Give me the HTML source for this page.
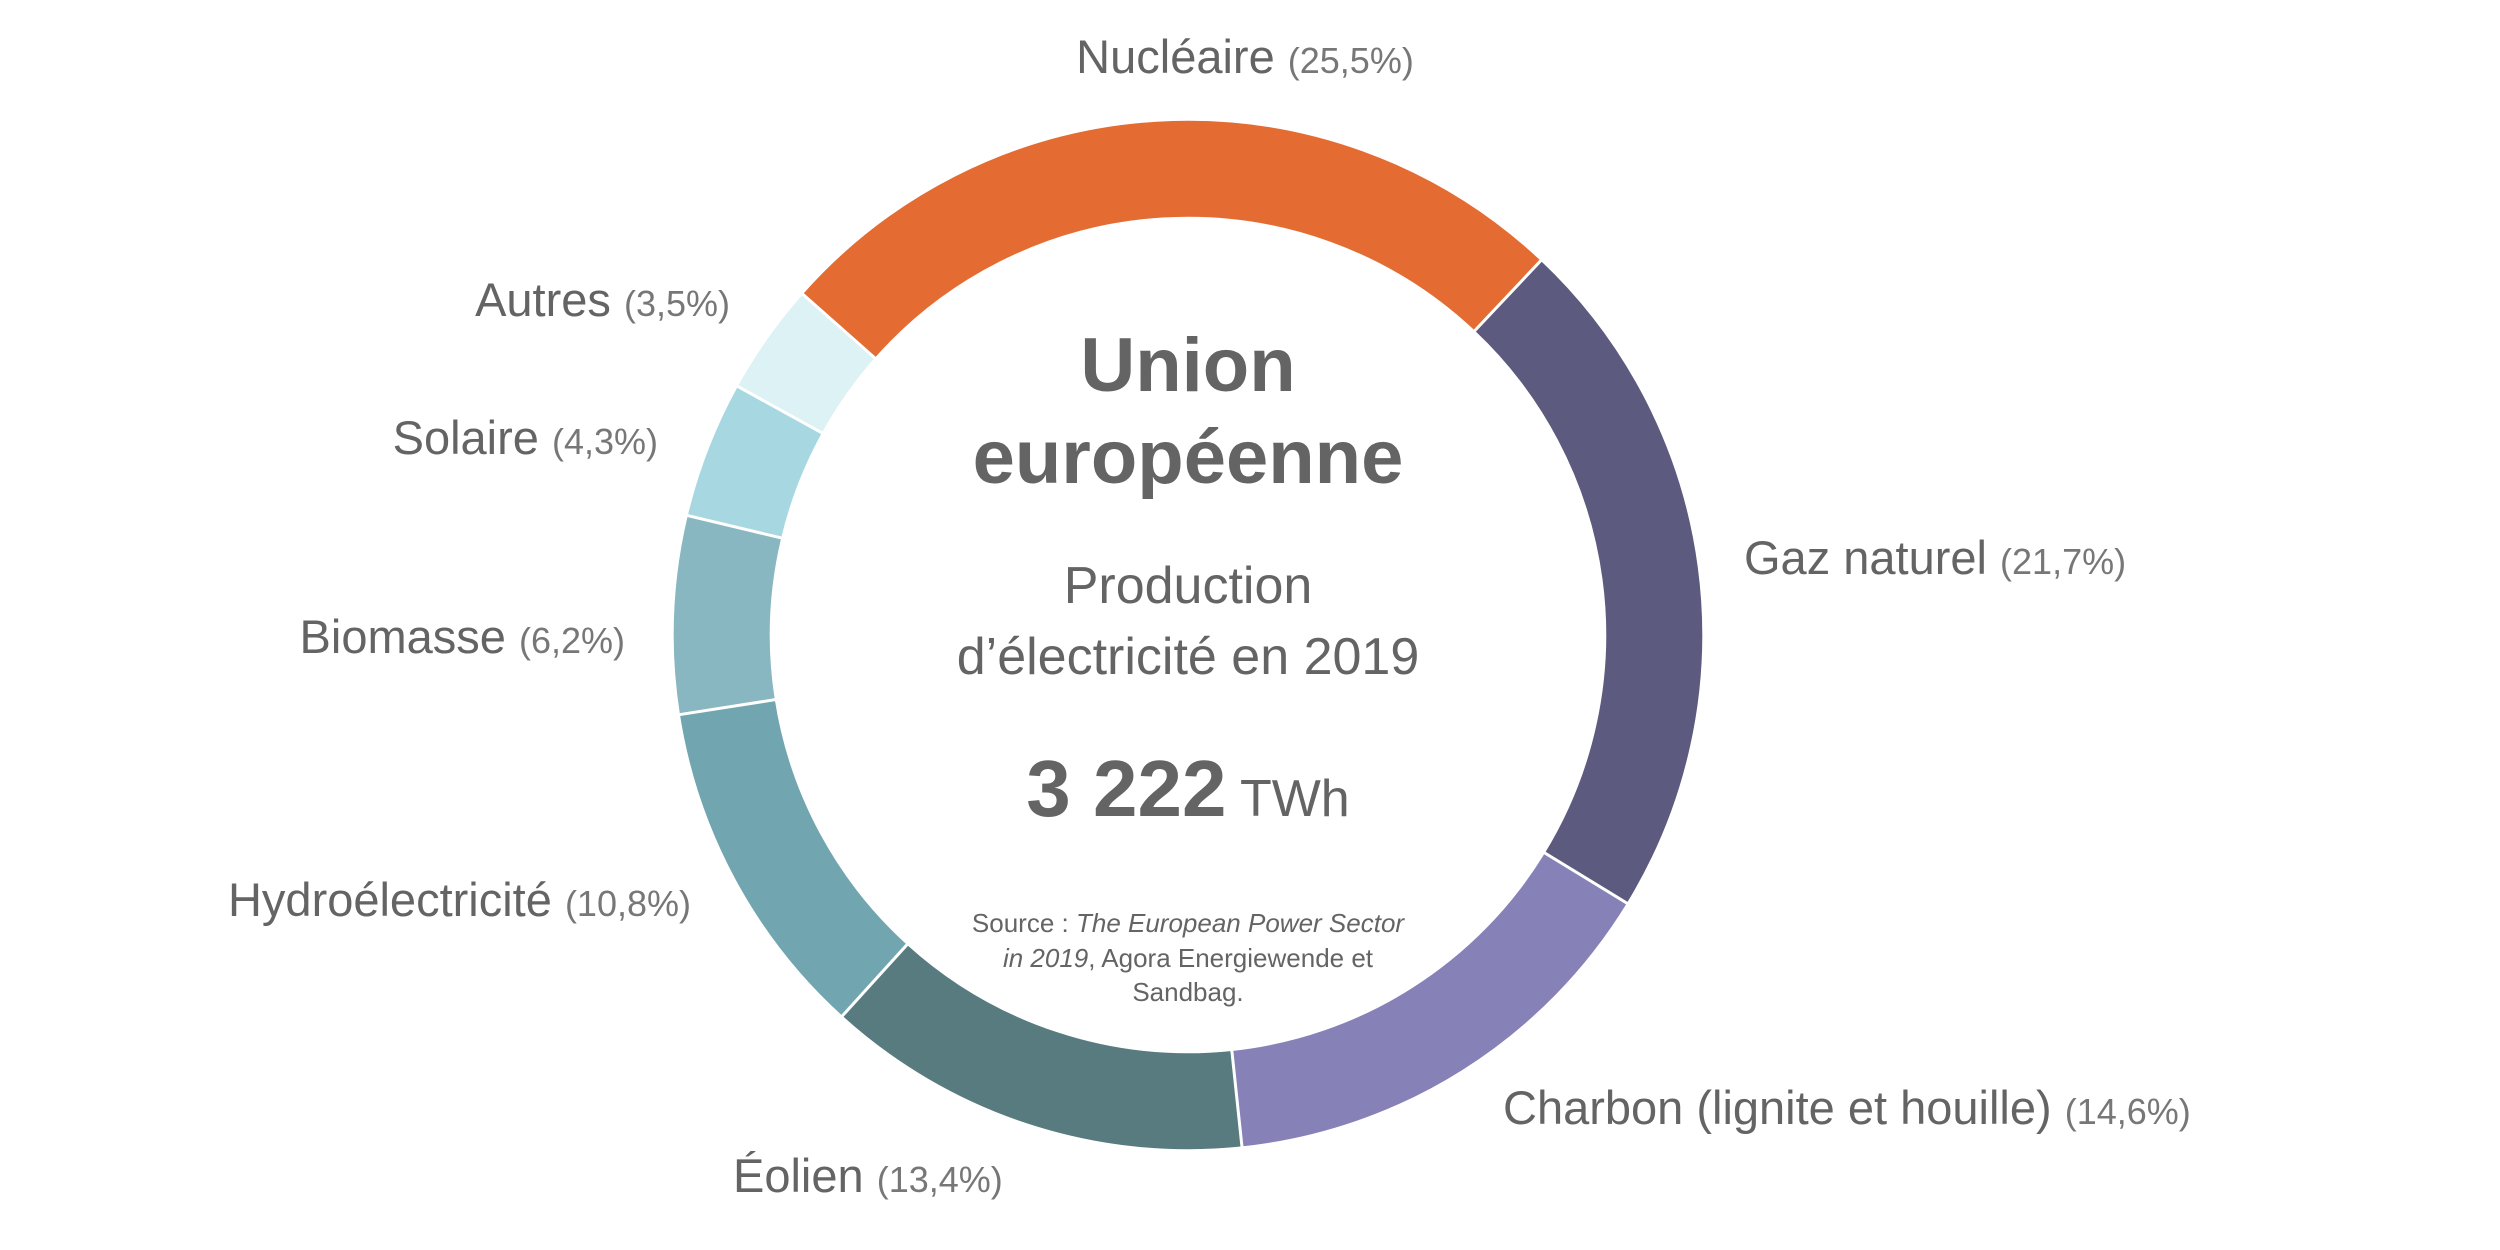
<!DOCTYPE html>
<html><head><meta charset="utf-8"><style>
html,body{margin:0;padding:0;background:#fff;}
svg{display:block;}
text{font-family:"Liberation Sans",sans-serif;fill:#646464;}
.l{font-size:47px;}
.p{font-size:36px;fill:#777;}
</style></head><body>
<svg width="2500" height="1250" viewBox="0 0 2500 1250">
<g fill="none" stroke-width="96">
<circle cx="1188" cy="635" r="466.25" stroke="#E46B31" stroke-dasharray="747.0 3000" transform="rotate(-138.5 1188 635)"/>
<circle cx="1188" cy="635" r="466.25" stroke="#5C5A7E" stroke-dasharray="635.7 3000" transform="rotate(-46.7 1188 635)"/>
<circle cx="1188" cy="635" r="466.25" stroke="#8681B7" stroke-dasharray="427.7 3000" transform="rotate(31.42 1188 635)"/>
<circle cx="1188" cy="635" r="466.25" stroke="#577B7E" stroke-dasharray="392.6 3000" transform="rotate(83.98 1188 635)"/>
<circle cx="1188" cy="635" r="466.25" stroke="#71A5B0" stroke-dasharray="316.4 3000" transform="rotate(132.22 1188 635)"/>
<circle cx="1188" cy="635" r="466.25" stroke="#88B7C2" stroke-dasharray="181.6 3000" transform="rotate(171.1 1188 635)"/>
<circle cx="1188" cy="635" r="466.25" stroke="#A7D8E2" stroke-dasharray="126.0 3000" transform="rotate(193.42 1188 635)"/>
<circle cx="1188" cy="635" r="466.25" stroke="#DDF2F5" stroke-dasharray="102.5 3000" transform="rotate(208.9 1188 635)"/>
</g>
<g stroke="#fff" stroke-width="3">
<line x1="1188" y1="218" x2="1188" y2="120" transform="rotate(-48.5 1188 635)"/>
<line x1="1188" y1="218" x2="1188" y2="120" transform="rotate(43.3 1188 635)"/>
<line x1="1188" y1="218" x2="1188" y2="120" transform="rotate(121.42 1188 635)"/>
<line x1="1188" y1="218" x2="1188" y2="120" transform="rotate(173.98 1188 635)"/>
<line x1="1188" y1="218" x2="1188" y2="120" transform="rotate(222.22 1188 635)"/>
<line x1="1188" y1="218" x2="1188" y2="120" transform="rotate(261.1 1188 635)"/>
<line x1="1188" y1="218" x2="1188" y2="120" transform="rotate(283.42 1188 635)"/>
<line x1="1188" y1="218" x2="1188" y2="120" transform="rotate(298.9 1188 635)"/>
</g>
<text class="l" x="1245" y="73" text-anchor="middle">Nucléaire <tspan class="p">(25,5%)</tspan></text>
<text class="l" x="730" y="316" text-anchor="end">Autres <tspan class="p">(3,5%)</tspan></text>
<text class="l" x="658" y="454" text-anchor="end">Solaire <tspan class="p">(4,3%)</tspan></text>
<text class="l" x="625" y="653" text-anchor="end">Biomasse <tspan class="p">(6,2%)</tspan></text>
<text class="l" x="691" y="916" text-anchor="end">Hydroélectricité <tspan class="p">(10,8%)</tspan></text>
<text class="l" x="733" y="1192">Éolien <tspan class="p">(13,4%)</tspan></text>
<text class="l" x="1503" y="1124">Charbon (lignite et houille) <tspan class="p">(14,6%)</tspan></text>
<text class="l" x="1744" y="574">Gaz naturel <tspan class="p">(21,7%)</tspan></text>
<g text-anchor="middle">
<text x="1188" y="391" font-size="76" font-weight="bold">Union</text>
<text x="1188" y="483" font-size="76" font-weight="bold">européenne</text>
<text x="1188" y="603" font-size="52">Production</text>
<text x="1188" y="674" font-size="52">d’électricité en 2019</text>
<text x="1188" y="816"><tspan font-size="80" font-weight="bold">3 222</tspan><tspan font-size="52"> TWh</tspan></text>
<text x="1188" y="932" font-size="26">Source : <tspan font-style="italic">The European Power Sector</tspan></text>
<text x="1188" y="967" font-size="26"><tspan font-style="italic">in 2019</tspan>, Agora Energiewende et</text>
<text x="1188" y="1001" font-size="26">Sandbag.</text>
</g>
</svg>
</body></html>
